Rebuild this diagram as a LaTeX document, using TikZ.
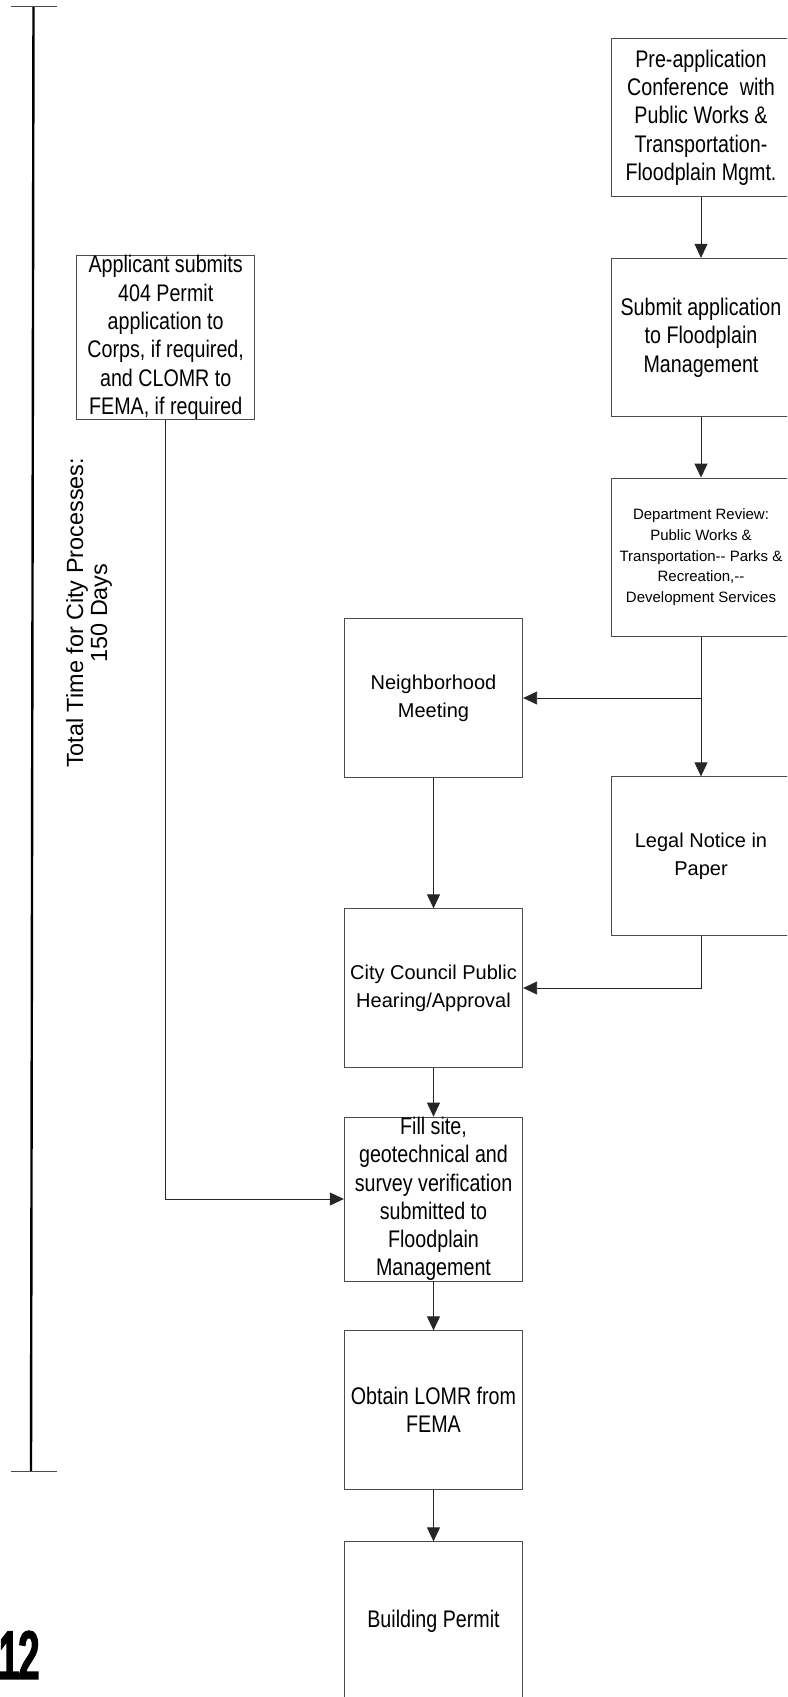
\documentclass[tikz,border=0pt]{standalone}
\usepackage{fontspec}
\setmainfont{Liberation Sans}
\newfontfamily\narrowfont[FakeStretch=0.82]{Liberation Sans}
\newfontfamily\heavyfont[FakeStretch=0.54,FakeBold=5]{Liberation Sans}
\usetikzlibrary{arrows.meta}
\definecolor{edge}{gray}{0.30}
\tikzset{
  stepbox/.style={draw=edge, line width=0.9pt, rectangle, inner sep=0pt,
    minimum width=178.4pt, minimum height=158.4pt, align=center, text=black},
  narrowtext/.style={font=\narrowfont\fontsize{24}{28.3}\selectfont},
  plaintext/.style={font=\fontsize{20}{27.7}\selectfont},
  smalltext/.style={font=\fontsize{15}{20.8}\selectfont},
  flow/.style={draw=black!85, line width=0.9pt, -{Triangle[length=14pt,width=13pt]}},
  tick/.style={draw=edge, line width=0.9pt},
}
\begin{document}
\begin{tikzpicture}[x=1pt, y=-1pt]
\useasboundingbox (0,0) rectangle (787,1697);
\clip (0,0) rectangle (787,1697);

% time scale on the left
\coordinate (ttop) at (33.5,6);
\coordinate (tbot) at (31,1471);
\draw[line width=2.4pt, black] (ttop) -- (tbot);
\draw[tick] (11,6) -- (57,6);
\draw[tick] (11,1471) -- (57,1471);
\node[rotate=90, align=center, font=\fontsize{23.4}{24}\selectfont] (total) at (89,613)
  {Total Time for City Processes:\\150 Days};

% process boxes
\node[stepbox, narrowtext] (pre) at (701,117.5)
  {Pre-application\\Conference~ with\\Public Works \&\\Transportation-\\Floodplain Mgmt.};
\node[stepbox, narrowtext] (submit) at (701,337.5)
  {Submit application\\to Floodplain\\Management};
\node[stepbox, narrowtext] (applicant) at (165.7,337.5)
  {Applicant submits\\404 Permit\\application to\\Corps, if required,\\and CLOMR to\\FEMA, if required};
\node[stepbox, smalltext] (dept) at (701,557.2)
  {Department Review:\\Public Works \&\\Transportation-{}- Parks \&\\Recreation,-{}-\\Development Services};
\node[stepbox, plaintext] (nbr) at (433.5,698)
  {Neighborhood\\Meeting};
\node[stepbox, plaintext] (legal) at (701,856)
  {Legal Notice in\\Paper};
\node[stepbox, plaintext] (city) at (433.5,988)
  {City Council Public\\Hearing/Approval};
\node[stepbox, narrowtext] (fill) at (433.5,1199)
  {Fill site,\\geotechnical and\\survey verification\\submitted to\\Floodplain\\Management};
\node[stepbox, narrowtext] (lomr) at (433.5,1410)
  {Obtain LOMR from\\FEMA};
\node[stepbox, narrowtext] (permit) at (433.5,1621)
  {Building Permit};

% connectors
\draw[flow] (pre.south) -- (submit.north);
\draw[flow] (submit.south) -- (dept.north);
\draw[flow] (dept.south) -- (dept.south |- nbr.east) -- (nbr.east);
\draw[flow] (dept.south) -- (legal.north);
\draw[flow] (nbr.south) -- (city.north);
\draw[flow] (legal.south) -- (legal.south |- city.east) -- (city.east);
\draw[flow] (city.south) -- (fill.north);
\draw[flow] (applicant.south) -- (applicant.south |- fill.west) -- (fill.west);
\draw[flow] (fill.south) -- (lomr.north);
\draw[flow] (lomr.south) -- (permit.north);

% page number
\node[anchor=base east, inner sep=0pt, font=\heavyfont\fontsize{66}{66}\selectfont] (pagenum) at (39,1678) {12};
\end{tikzpicture}
\end{document}
